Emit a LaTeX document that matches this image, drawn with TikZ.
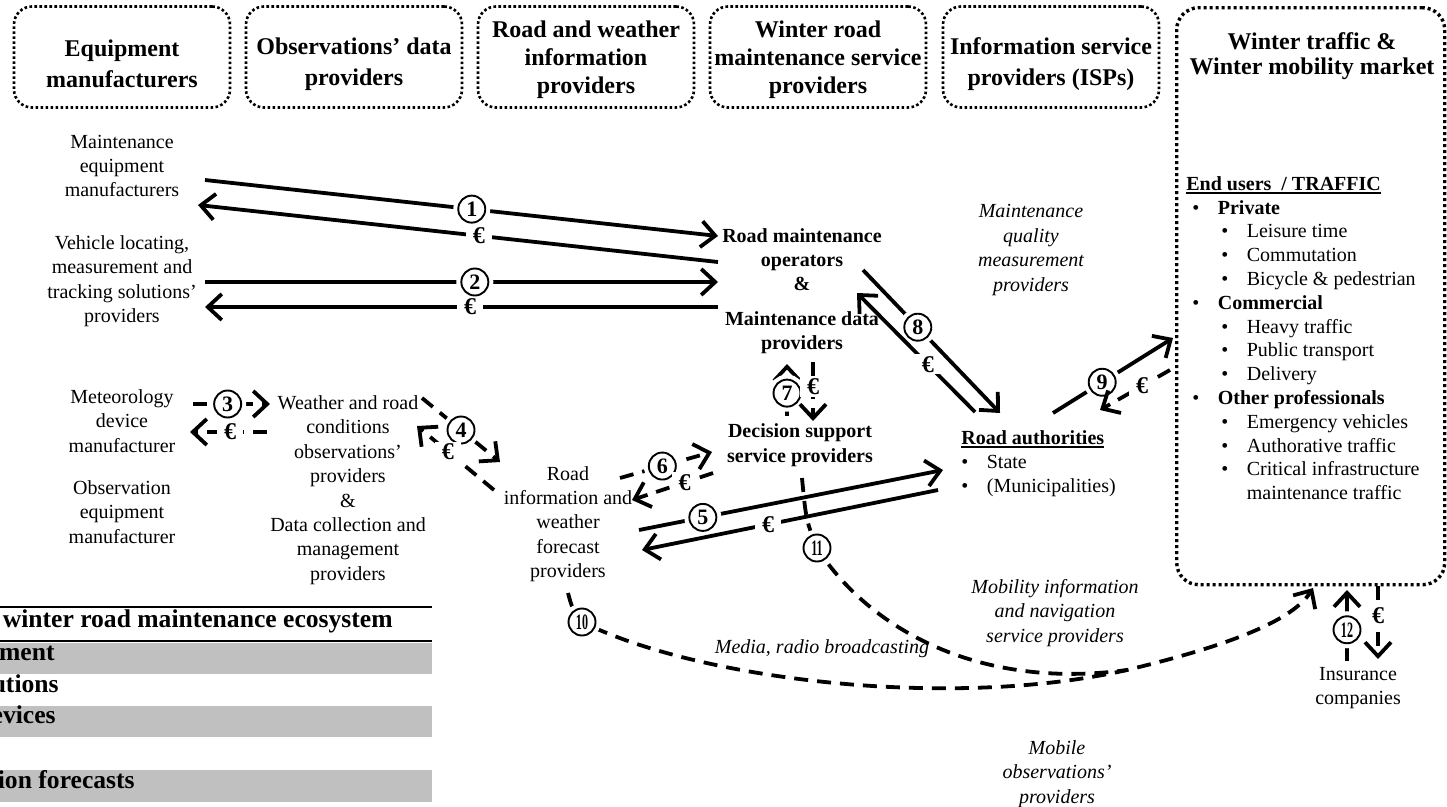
\documentclass[tikz,border=0pt]{standalone}
\usepackage{fontspec}
\setmainfont{Liberation Serif}
\usepackage{graphicx}
\usetikzlibrary{arrows.meta}

\definecolor{tblgray}{HTML}{C0C0C0}
\newcommand{\txt}{\fontsize{20}{24.4}\selectfont}
\newcommand{\hdrfont}{\bfseries\fontsize{24}{28}\selectfont}
\newcommand{\thickul}[1]{\setbox0\hbox{#1}\rlap{\rule[-3.5pt]{\wd0}{1.6pt}}\box0}
\newcommand{\twodig}[1]{\scalebox{0.55}[1]{#1}}
\newcommand{\bul}{\makebox[25.5pt][l]{\textbullet}}

\tikzset{every picture/.style={line width=0.75pt}}
\tikzset{
  hdrbox/.style={draw, line width=2.6pt, dash pattern=on 2.6pt off 2.4pt, rounded corners=18pt,
    minimum width=216pt, minimum height=101pt, inner sep=0pt},
  hdrtxt/.style={align=center, font=\hdrfont, inner sep=0pt},
  plain/.style={align=center, font=\txt, inner sep=0pt},
  plainbf/.style={align=center, font=\txt\bfseries, inner sep=0pt},
  plainit/.style={align=center, font=\txt\itshape, inner sep=0pt},
  lst/.style={anchor=mid west, font=\txt, inner sep=0pt},
  tbl/.style={anchor=mid east, inner sep=0pt, font=\bfseries\fontsize{25.6}{25.6}\selectfont},
  flow/.style={line width=3.8pt, -{Straight Barb[length=14pt,width=26pt]}},
  dsh/.style={dash pattern=on 14pt off 9pt},
  num/.style={solid, circle, draw, line width=1.9pt, fill=white, inner sep=0pt, minimum size=27pt,
    font=\bfseries\fontsize{22}{22}\selectfont, preaction={draw=white, line width=10pt}},
  eur/.style={fill=white, inner xsep=7pt, inner ysep=2pt, font=\bfseries\fontsize{24}{24}\selectfont},
}

\begin{document}
\begin{tikzpicture}[x=1pt,y=1pt,yscale=-1,xscale=1]
\useasboundingbox (0,0) rectangle (1447,806);

%Shape: Rounded Rect (actor groups)
\node[hdrbox] (heqb) at (122,57) {};
\node[hdrbox] (hobb) at (354,57) {};
\node[hdrbox] (hrwb) at (586,57) {};
\node[hdrbox] (hwmb) at (818,57) {};
\node[hdrbox] (hisb) at (1051,57) {};
\node[hdrbox, line width=3.4pt, dash pattern=on 3pt off 3pt, rounded corners=22pt,
  minimum width=268pt, minimum height=577pt, anchor=north west] (mkt) at (1175,6) {};
% Text Node
\node[hdrtxt] (heq) at (122,64) {Equipment\\[3pt]manufacturers};
\node[hdrtxt] (hob) at (354,64) {Observations' data\\[3pt]providers};
\node[hdrtxt] (hrw) at (586,60) {Road and weather\\information\\providers};
\node[hdrtxt] (hwm) at (818,60) {Winter road\\maintenance service\\providers};
\node[hdrtxt] (his) at (1051,64) {Information service\\[3pt]providers (ISPs)};
\node[hdrtxt] (mkttl) at (1312,56) {Winter traffic \&\\[-3pt]Winter mobility market};

% Text Node
\node[plain] (meq) at (122,166) {Maintenance\\equipment\\manufacturers};
\node[plain] (vlt) at (122,281) {Vehicle locating,\\measurement and\\tracking solutions'\\providers};
\node[plain] (mdm) at (122,421) {Meteorology\\device\\manufacturer};
\node[plain] (oem) at (122,512) {Observation\\equipment\\manufacturer};
\node[plain] (wrc) at (348,490) {Weather and road\\conditions\\observations'\\providers\\\&\\Data collection and\\management\\providers};
\node[plain] (rif) at (568,524) {Road\\information and\\weather\\forecast\\providers};
\node[plainbf] (rmo) at (802,291) {Road maintenance\\operators\\\&\\[10pt]Maintenance data\\providers};
\node[plainbf] (dss) at (800,445) {Decision support\\service providers};

% Text Node
\node[lst, font=\txt\bfseries] (rau) at (961,442) {\thickul{Road authorities}};
\node[lst] (rsta) at (961,466) {\bul State};
\node[lst] (rmun) at (961,490) {\bul (Municipalities)};

% Text Node
\node[lst, font=\txt\bfseries] (eus) at (1186,188) {\thickul{End users \ / TRAFFIC}};
\node[lst] (upri) at (1192,212) {\bul\textbf{Private}};
\node[lst] (ulei) at (1221,235.6) {\bul Leisure time};
\node[lst] (ucom) at (1221,259.4) {\bul Commutation};
\node[lst] (ubic) at (1221,283.2) {\bul Bicycle \& pedestrian};
\node[lst] (ucmm) at (1192,307) {\bul\textbf{Commercial}};
\node[lst] (uhev) at (1221,330.8) {\bul Heavy traffic};
\node[lst] (upub) at (1221,354.6) {\bul Public transport};
\node[lst] (udel) at (1221,378.4) {\bul Delivery};
\node[lst] (uoth) at (1192,402.2) {\bul\textbf{Other professionals}};
\node[lst] (uemv) at (1221,426) {\bul Emergency vehicles};
\node[lst] (uaut) at (1221,449.8) {\bul Authorative traffic};
\node[lst] (ucri) at (1221,473.6) {\bul Critical infrastructure};
\node[lst] (umnt) at (1246.5,497.4) {maintenance traffic};

% Text Node
\node[plainit] (mqm) at (1031,250) {Maintenance\\quality\\measurement\\providers};
\node[plainit] (mis) at (1055,613) {Mobility information\\and navigation\\service providers};
\node[plainit] (mrb) at (822,649) {Media, radio broadcasting};
\node[plainit] (mop) at (1057,774) {Mobile\\observations'\\providers};
\node[plain] (inc) at (1358,688) {Insurance\\companies};

%Shape: Table
\fill[tblgray] (0,643) rectangle (432,674);
\fill[tblgray] (0,706) rectangle (432,737);
\fill[tblgray] (0,770) rectangle (432,802);
\draw[line width=2pt] (0,607) -- (432,607);
\draw[line width=2pt] (0,641) -- (432,641);
\node[tbl] (tb1) at (393,625) {winter road maintenance ecosystem};
\node[tbl] (tb2) at (55,658) {ment};
\node[tbl] (tb3) at (59,690) {utions};
\node[tbl] (tb4) at (56,721) {evices};
\node[tbl] (tb5) at (135,786) {ion forecasts};

%Straight Lines
\coordinate (a1s) at (205,180); \coordinate (a1e) at (718,236);
\coordinate (b1s) at (718,262); \coordinate (b1e) at (198,205);
\coordinate (a2s) at (205,282); \coordinate (a2e) at (718,282);
\coordinate (b2s) at (718,307); \coordinate (b2e) at (205,307);
\coordinate (a3s) at (193,404); \coordinate (a3e) at (270,404);
\coordinate (b3s) at (267,432); \coordinate (b3e) at (190,432);
\coordinate (a4s) at (422,398); \coordinate (a4e) at (500,462);
\coordinate (b4s) at (494,490); \coordinate (b4e) at (417,426);
\coordinate (a5s) at (639,530); \coordinate (a5e) at (943,470);
\coordinate (b5s) at (938,490); \coordinate (b5e) at (642,550);
\coordinate (a6s) at (620,478); \coordinate (a6e) at (712,452);
\coordinate (b6s) at (713,473); \coordinate (b6e) at (632,500);
\coordinate (a7s) at (787,416); \coordinate (a7e) at (787,364);
\coordinate (b7s) at (813,362); \coordinate (b7e) at (813,421);
\coordinate (a8s) at (863,270); \coordinate (a8e) at (1000,413);
\coordinate (b8s) at (975,412); \coordinate (b8e) at (857,293);
\coordinate (a9s) at (1053,413); \coordinate (a9e) at (1173,338);
\coordinate (b9s) at (1170,370); \coordinate (b9e) at (1100,410);
\coordinate (a12s) at (1347,661); \coordinate (a12e) at (1347,590);
\coordinate (b12s) at (1378,586); \coordinate (b12e) at (1378,659);

\draw[flow] (a1s) -- node[num, pos=0.52] (n1) {1} (a1e);
\draw[flow] (b1s) -- node[eur, pos=0.46] (e1) {€} (b1e);
\draw[flow] (a2s) -- node[num, pos=0.526] (n2) {2} (a2e);
\draw[flow] (b2s) -- node[eur, pos=0.483] (e2) {€} (b2e);
\draw[flow, dsh] (a3s) -- node[num, pos=0.45] (n3) {3} (a3e);
\draw[flow, dsh] (b3s) -- node[eur, pos=0.48] (e3) {€} (b3e);
\draw[flow, dsh] (a4s) -- node[num, pos=0.5] (n4) {4} (a4e);
\draw[flow, dsh] (b4s) -- node[eur, pos=0.6] (e4) {€} (b4e);
\draw[flow] (a5s) -- node[num, pos=0.21] (n5) {5} (a5e);
\draw[flow] (b5s) -- node[eur, pos=0.574] (e5) {€} (b5e);
\draw[flow, dsh] (a6s) -- node[num, pos=0.46] (n6) {6} (a6e);
\draw[flow, dsh] (b6s) -- node[eur, pos=0.35] (e6) {€} (b6e);
\draw[flow, dsh] (a7s) -- node[num, pos=0.44] (n7) {7} (a7e);
\draw[flow, dsh] (b7s) -- node[eur, pos=0.42] (e7) {€} (b7e);
\draw[flow] (a8s) -- node[num, pos=0.4] (n8) {8} (a8e);
\draw[flow] (b8s) -- node[eur, pos=0.4] (e8) {€} (b8e);
\draw[flow] (a9s) -- node[num, pos=0.41] (n9) {9} (a9e);
\draw[flow, dsh] (b9s) -- node[eur, pos=0.4] (e9) {€} (b9e);
\draw[flow] (a12s) -- node[num, pos=0.44] (n12) {\twodig{12}} (a12e);
\draw[flow, dsh] (b12s) -- node[eur, pos=0.4] (e12) {€} (b12e);

%Curve Lines
\coordinate (c10s) at (568,593); \coordinate (c10) at (582,622);
\coordinate (c11s) at (802,478); \coordinate (c11) at (817,548);
\coordinate (cmg) at (1127,670); \coordinate (cend) at (1313,588);
\draw[flow, dsh] (c10s) .. controls (572,608) .. (c10) .. controls (700,680) and (950,710) .. (cmg) .. controls (1210,650) and (1290,625) .. (cend);
\draw[line width=3.8pt, dsh] (c11s) .. controls (806,520) .. (c11) .. controls (870,630) and (980,690) .. (cmg);
\node[num] (n10) at (c10) {\twodig{10}};
\node[num] (n11) at (c11) {\twodig{11}};

\end{tikzpicture}
\end{document}
